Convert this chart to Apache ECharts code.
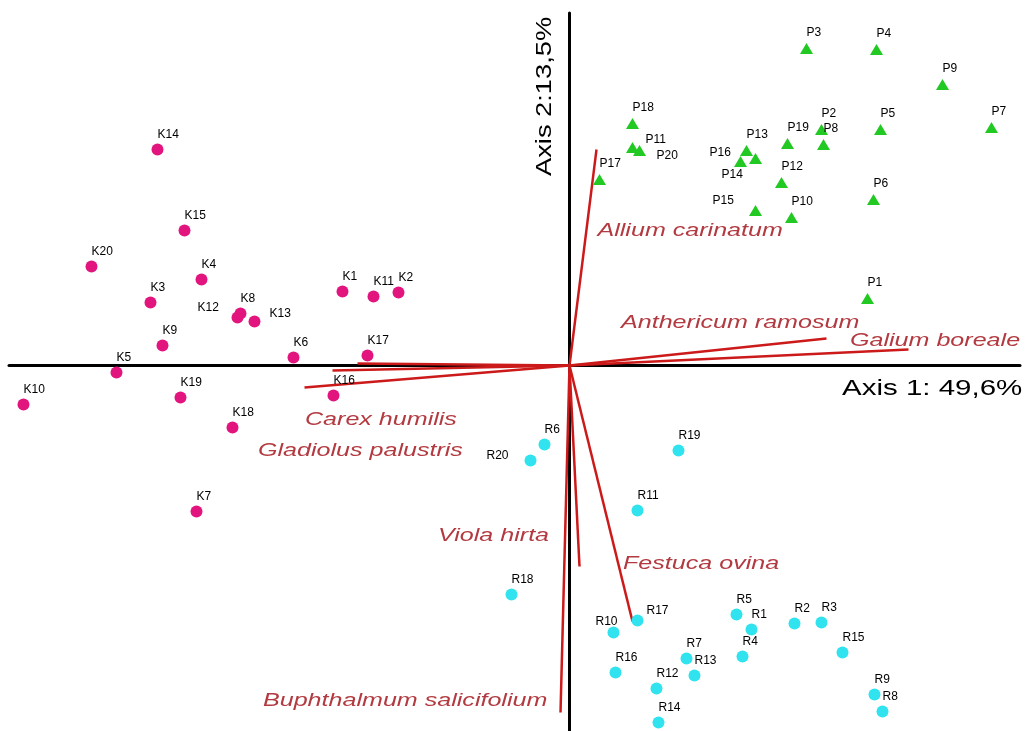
<!DOCTYPE html>
<html>
<head>
<meta charset="utf-8">
<script src="https://cdn.jsdelivr.net/npm/echarts@6/dist/echarts.min.js"></script>
<style>
  html, body { margin: 0; padding: 0; background: #ffffff; }
  #chart { width: 1026px; height: 731px; }
</style>
</head>
<body>
<div id="chart"></div>
<script>
// PCA biplot: site scores for three groups (K, P, R) and species loadings.

const axis1Title = 'Axis 1: 49,6%';
const axis2Title = 'Axis 2:13,5%';

const namesK = ['K1','K2','K3','K4','K5','K6','K7','K8','K9','K10',
                'K11','K12','K13','K14','K15','K16','K17','K18','K19','K20'];
const scoresK = [
  [-2.27, 0.74], [-1.71, 0.73], [-4.19, 0.63], [-3.68, 0.86], [-4.53, -0.07],
  [-2.76, 0.08], [-3.73, -1.46], [-3.29, 0.52], [-4.07, 0.20], [-5.46, -0.39],
  [-1.96, 0.69], [-3.32, 0.48], [-3.15, 0.44], [-4.12, 2.16], [-3.85, 1.35],
  [-2.36, -0.30], [-2.02, 0.10], [-3.37, -0.62], [-3.89, -0.32], [-4.78, 0.99]
];

const namesP = ['P1','P2','P3','P4','P5','P6','P7','P8','P9','P10',
                'P11','P12','P13','P14','P15','P16','P17','P18','P19','P20'];
const scoresP = [
  [2.98, 0.67], [2.52, 2.36], [2.37, 3.17], [3.07, 3.16], [3.11, 2.36],
  [3.04, 1.66], [4.22, 2.38], [2.54, 2.21], [3.73, 2.81], [2.22, 1.48],
  [0.63, 2.18], [2.12, 1.83], [1.77, 2.15], [1.86, 2.07], [1.86, 1.55],
  [1.71, 2.04], [0.30, 1.86], [0.63, 2.42], [2.18, 2.22], [0.70, 2.15]
];

const namesR = ['R1','R2','R3','R4','R5','R6','R7','R8','R9','R10',
                'R11','R12','R13','R14','R15','R16','R17','R18','R19','R20'];
const scoresR = [
  [1.82, -2.64], [2.25, -2.58], [2.52, -2.57], [1.73, -2.91], [1.67, -2.49],
  [-0.25, -0.79], [1.17, -2.93], [3.13, -3.46], [3.05, -3.29], [0.44, -2.67],
  [0.68, -1.45], [0.87, -3.23], [1.25, -3.10], [0.89, -3.57], [2.73, -2.87],
  [0.46, -3.07], [0.68, -2.55], [-0.58, -2.29], [1.09, -0.85], [-0.39, -0.95]
];

const speciesNames = ['Allium carinatum', 'Anthericum ramosum', 'Galium boreale',
                      'Carex humilis', 'Gladiolus palustris', '',
                      'Viola hirta', 'Festuca ovina', 'Buphthalmum salicifolium'];
const speciesLoadings = [
  [0.27, 2.16], [2.57, 0.27], [3.39, 0.16],
  [-2.37, -0.05], [-2.65, -0.22], [-2.12, 0.02],
  [0.10, -2.01], [0.63, -2.56], [-0.09, -3.47]
];

// Anchor of each species name (left edge, vertical middle), in score units
const speciesLabelAnchor = [
  [0.28, 1.345], [0.515, 0.425], [2.805, 0.245],
  [-2.645, -0.545], [-3.115, -0.855], null,
  [-1.315, -1.705], [0.535, -1.985], [-3.065, -3.355]
];

// Label nudges (px) for crowded sites; others sit just above their marker
const labelNudge = {
  K12: [-40, -10], K13: [15, -8],
  P11: [13, -8], P20: [17, 5], P16: [-31, -9], P14: [-34, 16], P15: [-43, -10],
  R20: [-44, -5], R17: [9, -10], R10: [-18, -11]
};

const LABEL_FONT = '"Liberation Sans", Arial, sans-serif';

function siteData(names, scores, dy) {
  return names.map((n, i) => ({
    name: n,
    value: scores[i],
    label: { offset: labelNudge[n] || [0, dy] }
  }));
}

function siteSeries(names, scores, symbol, size, color, dy) {
  return {
    type: 'scatter',
    data: siteData(names, scores, dy),
    symbol: symbol,
    symbolSize: size,
    itemStyle: { color: color, opacity: 1 },
    label: {
      show: true,
      position: 'inside',
      formatter: '{b}',
      align: 'left',
      verticalAlign: 'middle',
      color: '#000',
      fontSize: 12,
      fontFamily: LABEL_FONT
    },
    emphasis: { disabled: true },
    silent: true,
    clip: false,
    z: 5
  };
}

const chart = echarts.init(document.getElementById('chart'), null, { renderer: 'canvas' });

const axisCommon = {
  type: 'value',
  axisLine: { show: true, onZero: true, lineStyle: { color: '#000', width: 3 } },
  axisTick: { show: false },
  axisLabel: { show: false },
  splitLine: { show: false }
};

chart.setOption({
  animation: false,
  backgroundColor: '#ffffff',
  grid: { left: 9, right: 6, top: 13, bottom: 0, containLabel: false },
  xAxis: Object.assign({}, axisCommon, { min: -5.605, max: 4.505 }),
  yAxis: Object.assign({}, axisCommon, { min: -3.655, max: 3.525 }),
  series: [
    {
      type: 'lines',
      coordinateSystem: 'cartesian2d',
      data: speciesLoadings.map(e => ({ coords: [[0, 0], e] })),
      lineStyle: { color: '#cc1a1a', width: 2.5, opacity: 1 },
      silent: true,
      z: 2
    },
    {
      type: 'custom',
      coordinateSystem: 'cartesian2d',
      data: speciesLabelAnchor
        .map((p, i) => p ? [p[0], p[1], i] : null)
        .filter(d => d !== null),
      renderItem: function (params, api) {
        const pt = api.coord([api.value(0), api.value(1)]);
        const idx = api.value(2);
        return {
          type: 'text',
          x: pt[0],
          y: pt[1],
          scaleX: 1.32,
          style: {
            text: speciesNames[idx],
            fill: '#b23a40',
            font: 'italic 19px ' + LABEL_FONT,
            align: 'left',
            verticalAlign: 'middle'
          }
        };
      },
      clip: false,
      silent: true,
      z: 3
    },
    siteSeries(namesK, scoresK, 'circle', 12, '#e2157f', -15),
    siteSeries(namesP, scoresP, 'triangle', [13, 11], '#22c922', -16),
    siteSeries(namesR, scoresR, 'circle', 12, '#30e3ee', -15)
  ],
  graphic: [
    {
      type: 'text',
      x: 842,
      y: 389,
      scaleX: 1.34,
      silent: true,
      style: {
        text: axis1Title,
        fill: '#000',
        font: '22px ' + LABEL_FONT,
        align: 'left',
        verticalAlign: 'middle'
      }
    },
    {
      type: 'text',
      x: 545,
      y: 176,
      rotation: Math.PI / 2,
      scaleX: 1.24,
      silent: true,
      style: {
        text: axis2Title,
        fill: '#000',
        font: '22px ' + LABEL_FONT,
        align: 'left',
        verticalAlign: 'middle'
      }
    }
  ]
});
</script>
</body>
</html>
